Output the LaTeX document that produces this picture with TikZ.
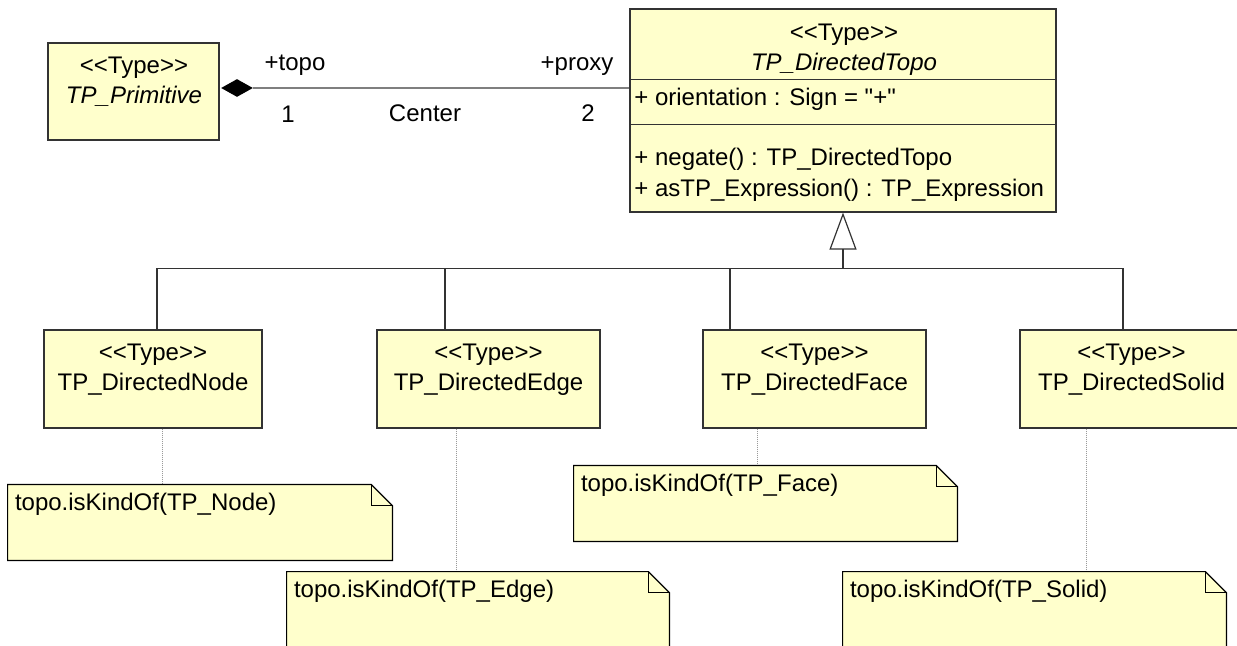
\documentclass[tikz,border=0pt]{standalone}
\usepackage{fontspec}
\setmainfont{Liberation Sans}[Ligatures=TeXOff]
\usepackage{tikz}
\usetikzlibrary{arrows.meta,calc,fit,positioning,shapes.geometric}
\definecolor{umlFill}{HTML}{FFFFCC}
\definecolor{umlInk}{HTML}{000000}
\definecolor{umlEdge}{HTML}{333333}
\definecolor{umlLink}{HTML}{7F7F7F}
\definecolor{umlDot}{HTML}{9A9A9A}
\tikzset{
  uml diagram/.style={font=\fontsize{12}{14}\selectfont, text=umlInk,
    x=0.5pt, y=-0.5pt},
  uml box/.style={draw=umlEdge, fill=umlFill, line width=0.6pt, inner sep=0pt},
  uml frame/.style={inner sep=0pt},
  uml note/.style={draw=umlInk, fill=umlFill, line width=0.6pt, line join=miter},
  uml text/.style={inner sep=0pt, anchor=mid, yshift=-1.5pt},
  uml member/.style={inner sep=0pt, anchor=mid west, yshift=-1.5pt},
  uml link/.style={draw=umlLink, line width=0.6pt},
  uml line/.style={draw=umlEdge, line width=0.6pt},
  uml gen/.style={uml line, -{Triangle[open, length=18.5pt, width=13.5pt]}},
  uml anchor/.style={draw=umlDot, line width=0.5pt, dash pattern=on 0.5pt off 0.5pt},
  uml comp/.style={diamond, fill=black, inner sep=0pt,
    minimum width=16pt, minimum height=9pt}
}

\begin{document}
\begin{tikzpicture}[uml diagram]
\useasboundingbox (0,0) rectangle (1237,646);
\clip (0,0) rectangle (1237,646);
\fill[white] (0,0) rectangle (1237,646);
% classes
\node[uml box, fit={(48,43) (219,140)}] (prim) {};
\node[uml box, fit={(630,9) (1056,212)}] (dtopo) {};
\node[uml box, fit={(44,330) (262,428)}] (dnode) {};
\node[uml box, fit={(377,330) (600,428)}] (dedge) {};
\node[uml box, fit={(703,330) (926,428)}] (dface) {};
\node[uml box, fit={(1020,330) (1243,428)}] (dsolid) {};
\draw[uml line] ($(dtopo.north west)+(0,71)$) -- ($(dtopo.north east)+(0,71)$);
\draw[uml line] ($(dtopo.north west)+(0,116)$) -- ($(dtopo.north east)+(0,116)$);
\node[uml text] (prim-st) at (134,65) {<<Type>>};
\node[uml text] (prim-nm) at (134,95) {\itshape TP\_Primitive};
\node[uml text] (dtopo-st) at (844,32) {<<Type>>};
\node[uml text] (dtopo-nm) at (844,62) {\itshape TP\_DirectedTopo};
\node[uml member] (attr) at (634,97) {+ orientation : Sign = "+"};
\node[uml member] (op1) at (634,157) {+ negate() : TP\_DirectedTopo};
\node[uml member] (op2) at (634,188) {+ asTP\_Expression() : TP\_Expression};
\foreach \b/\t in {dnode/TP\_DirectedNode, dedge/TP\_DirectedEdge,
    dface/TP\_DirectedFace, dsolid/TP\_DirectedSolid}{
  \node[uml text] (\b-st) at ($(\b.north)+(0,23)$) {<<Type>>};
  \node[uml text] (\b-nm) at ($(\b.north)+(0,53)$) {\t};
}
% association
\node[uml comp] (comp) at (237,88) {};
\draw[uml link] (comp.east) -- (comp.east -| dtopo.west);
\node[uml text] (role1) at (295,62) {+topo};
\node[uml text] (role2) at (577,62) {+proxy};
\node[uml text] (mult1) at (288,114) {1};
\node[uml text] (assoc) at (425,113) {Center};
\node[uml text] (mult2) at (588,113) {2};
% generalization
\coordinate (gen) at ($(dtopo.south)+(0,56)$);
\foreach \b/\dx in {dnode/4, dedge/-43.5, dface/-84.5, dsolid/-8.5}
  \draw[uml line] ($(\b.north)+(\dx,0)$) |- (gen);
\draw[uml gen] (gen) -- (dtopo.south);
% notes
\node[uml frame, fit={(8,485) (392,560)}] (nnote) {};
\node[uml frame, fit={(287,572) (669,670)}] (enote) {};
\node[uml frame, fit={(574,466) (957,541)}] (fnote) {};
\node[uml frame, fit={(843,572) (1226,670)}] (snote) {};
\foreach \b/\n/\dx in {dnode/nnote/9, dedge/enote/-32.5, dface/fnote/-57.5, dsolid/snote/-45.5}
  \draw[uml anchor] ($(\b.south)+(\dx,0)$) coordinate (a) -- (a |- \n.north);
\foreach \n/\t in {nnote/Node, enote/Edge, fnote/Face, snote/Solid}{
  \draw[uml note] (\n.south west) -- (\n.north west) -- ($(\n.north east)+(-21,0)$)
    -- ($(\n.north east)+(0,21)$) -- (\n.south east) -- cycle;
  \draw[uml note, fill=none] ($(\n.north east)+(-21,0)$) -- ($(\n.north east)+(-21,21)$)
    -- ($(\n.north east)+(0,21)$);
  \node[uml member] (\n-tx) at ($(\n.north west)+(7,18)$) {topo.isKindOf(TP\_\t)};
}
\end{tikzpicture}
\end{document}
